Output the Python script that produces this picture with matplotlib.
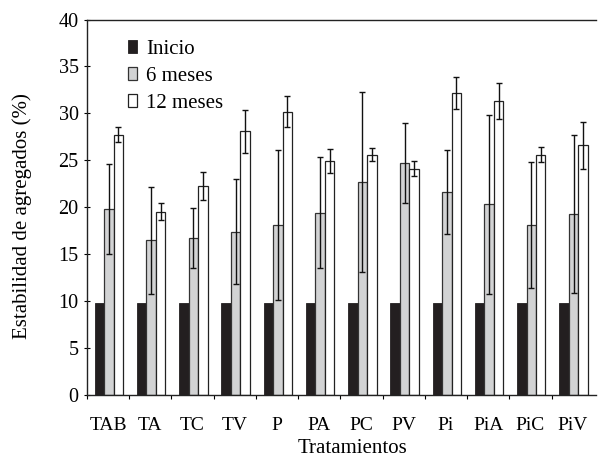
import numpy as np
import matplotlib.pyplot as plt

# Estabilidad de agregados (%) por tratamiento
tratamientos = ["TAB", "TA", "TC", "TV", "P", "PA", "PC", "PV",
                "Pi", "PiA", "PiC", "PiV"]
inicio = [9.8, 9.8, 9.8, 9.8, 9.8, 9.8, 9.8, 9.8, 9.8, 9.8, 9.8, 9.8]
meses6 = [19.8, 16.5, 16.7, 17.4, 18.1, 19.4, 22.7, 24.7, 21.6, 20.3, 18.1, 19.3]
err6 = [4.8, 5.7, 3.2, 5.6, 8.0, 5.9, 9.6, 4.3, 4.5, 9.5, 6.7, 8.4]
meses12 = [27.7, 19.5, 22.3, 28.1, 30.2, 24.9, 25.6, 24.1, 32.2, 31.3, 25.6, 26.6]
err12 = [0.8, 0.9, 1.5, 2.3, 1.7, 1.3, 0.7, 0.8, 1.7, 1.9, 0.8, 2.5]

plt.rcParams['font.family'] = ['Liberation Serif', 'DejaVu Serif']

fig = plt.figure(figsize=(5.98, 4.58), dpi=100)
ax = fig.add_axes([0.1455, 0.1376, 0.851, 0.8198])

x = np.arange(len(tratamientos))
w = 0.224
ek = dict(ecolor='#111111', elinewidth=1.0, capsize=2.2, capthick=1.0)

ax.bar(x - w + 0.02, inicio, w, color='#231f20', edgecolor='#231f20',
       linewidth=0.6, label='Inicio')
ax.bar(x + 0.02, meses6, w, yerr=err6, color='#d2d3d4', edgecolor='#333333',
       linewidth=0.9, error_kw=ek, label='6 meses')
ax.bar(x + w + 0.02, meses12, w, yerr=err12, color='white', edgecolor='#222222',
       linewidth=0.9, error_kw=ek, label='12 meses')

ax.set_xlim(-0.5, len(tratamientos) - 0.5 + 0.05)
ax.set_ylim(0, 40)
ax.set_yticks(range(0, 41, 5))
ax.set_xticks(x)
ax.set_xticklabels(tratamientos, fontsize=14)
ax.set_xticks(np.arange(-0.5, len(tratamientos) - 0.5, 1), minor=True)
ax.tick_params(axis='x', which='major', length=0, pad=16)
ax.tick_params(axis='x', which='minor', length=3, width=0.8, direction='out')
ax.tick_params(axis='y', length=4, width=0.8, direction='inout', labelsize=14.5, pad=4)

for s in ['left', 'bottom', 'top']:
    ax.spines[s].set_linewidth(1.0)
    ax.spines[s].set_color('#222222')
ax.spines['right'].set_visible(False)

ax.set_xlabel('Tratamientos', fontsize=15)
ax.set_ylabel('Estabilidad de agregados (%)', fontsize=15)
ax.xaxis.set_label_coords(0.521, -0.117)
ax.yaxis.set_label_coords(-0.108, 0.477)

leg = ax.legend(loc='upper left', bbox_to_anchor=(0.052, 0.984), frameon=False,
                fontsize=15, handlelength=0.45, handleheight=0.55,
                handletextpad=0.4, labelspacing=0.38, borderaxespad=0.3)

fig.savefig('out.png', dpi=100)
